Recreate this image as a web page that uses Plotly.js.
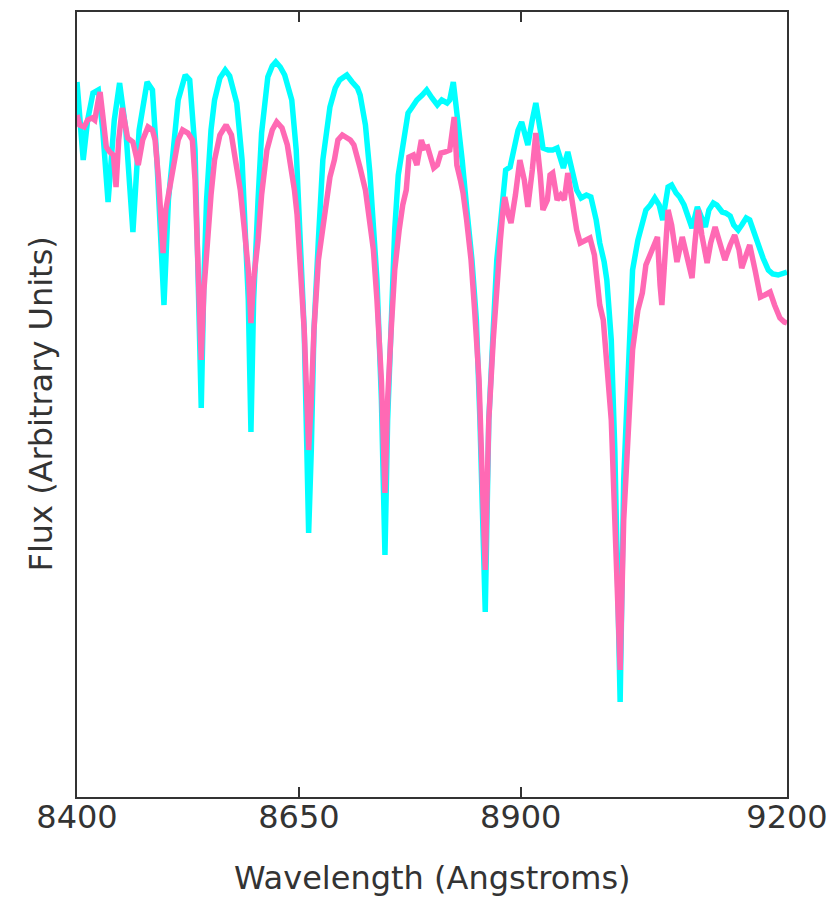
<!DOCTYPE html>
<html>
<head>
<meta charset="utf-8">
<script src="https://cdn.plot.ly/plotly-3.0.1.min.js"></script>
<style>
  html, body { margin: 0; padding: 0; background: #fff; }
  #chart { width: 832px; height: 898px; }
</style>
</head>
<body>
<div id="chart"></div>
<script>
// Spectrum 1 (cyan): wavelength in Angstroms and flux in arbitrary units
const wlCyan = [8400,8403,8407,8412,8418,8424,8429,8435,8442,8448,8455,8463,8470,8479,8485,8490,8498,8503,8508,8514,8522,8527,8533,8536,8540,8543,8546,8551,8555,8561,8567,8572,8580,8586,8589,8593,8596,8599,8604,8608,8615,8620,8624,8629,8634,8642,8647,8651,8656,8659,8661,8664,8667,8672,8677,8685,8691,8696,8704,8710,8716,8719,8725,8730,8735,8738,8743,8747,8750,8754,8758,8762,8765,8770,8773,8777,8783,8789,8794,8800,8806,8811,8817,8820,8824,8827,8829,8834,8839,8845,8850,8854,8860,8864,8869,8873,8877,8880,8883,8888,8892,8897,8901,8905,8908,8913,8917,8922,8925,8931,8936,8941,8944,8948,8953,8959,8963,8968,8974,8979,8985,8989,8994,8997,9002,9006,9012,9016,9021,9026,9032,9037,9041,9046,9051,9056,9060,9066,9070,9075,9079,9084,9088,9093,9099,9103,9108,9112,9117,9121,9127,9131,9136,9140,9145,9149,9154,9158,9163,9167,9173,9179,9184,9190,9195,9200];
const fluxCyan = [7.15,6.77,6.37,6.77,7.04,7.07,6.67,5.95,6.77,7.14,6.67,5.65,6.67,7.15,7.07,6.37,4.92,5.97,6.47,6.97,7.22,7.17,6.47,5.17,3.89,5.17,5.97,6.67,6.97,7.19,7.27,7.21,6.94,6.37,5.80,4.97,3.65,4.97,5.97,6.64,7.20,7.31,7.35,7.30,7.22,6.97,6.47,5.67,4.67,3.47,2.64,3.47,4.67,5.57,6.37,6.90,7.09,7.17,7.22,7.15,7.09,7.02,6.72,6.24,5.67,5.17,3.97,2.42,3.77,4.77,5.67,6.22,6.37,6.67,6.84,6.89,6.97,7.02,7.07,6.99,6.92,6.97,6.94,6.97,7.15,6.92,6.77,6.37,5.90,5.37,4.77,3.77,1.85,3.77,4.67,5.37,5.72,6.07,6.27,6.30,6.47,6.67,6.75,6.62,6.52,6.77,6.94,6.67,6.49,6.47,6.47,6.49,6.39,6.29,6.45,6.25,6.07,5.99,6.02,6.00,5.77,5.54,5.35,5.17,4.57,3.47,0.95,3.17,4.37,5.27,5.57,5.72,5.87,5.92,5.99,5.92,5.77,6.10,6.12,6.04,6.00,5.92,5.82,5.69,5.90,5.82,5.70,5.87,5.94,5.92,5.85,5.84,5.81,5.72,5.67,5.72,5.79,5.77,5.64,5.52,5.39,5.27,5.23,5.22,5.24,5.25];

// Spectrum 2 (pink): wavelength in Angstroms and flux in arbitrary units
const wlPink = [8400,8403,8408,8412,8417,8420,8424,8426,8429,8433,8437,8441,8444,8447,8451,8454,8457,8463,8469,8474,8480,8485,8488,8492,8497,8500,8505,8509,8514,8519,8525,8530,8533,8536,8540,8543,8546,8551,8555,8561,8568,8574,8578,8584,8589,8593,8596,8599,8604,8608,8614,8620,8625,8631,8637,8640,8645,8648,8651,8656,8659,8661,8664,8667,8672,8676,8681,8685,8690,8694,8699,8703,8708,8712,8717,8719,8725,8729,8734,8738,8743,8747,8750,8754,8758,8763,8767,8771,8774,8779,8783,8788,8791,8795,8800,8802,8806,8810,8815,8820,8825,8828,8832,8835,8839,8844,8848,8853,8860,8864,8869,8873,8877,8880,8882,8886,8889,8894,8899,8904,8908,8913,8917,8922,8925,8930,8933,8936,8941,8945,8949,8953,8957,8960,8963,8967,8972,8978,8983,8986,8989,8993,8997,9002,9006,9012,9016,9021,9026,9032,9037,9041,9046,9050,9054,9057,9059,9063,9066,9070,9076,9082,9087,9093,9096,9100,9104,9110,9114,9119,9125,9130,9136,9141,9146,9149,9154,9158,9164,9170,9175,9181,9186,9192,9197,9200];
const fluxPink = [6.82,6.72,6.70,6.77,6.79,6.77,6.97,7.05,6.82,6.50,6.45,6.42,6.10,6.57,6.89,6.72,6.59,6.55,6.32,6.57,6.70,6.67,6.57,6.17,5.44,5.87,6.09,6.32,6.57,6.67,6.64,6.57,6.17,5.37,4.37,5.07,5.47,6.02,6.37,6.62,6.72,6.62,6.40,6.07,5.64,5.27,4.74,5.17,5.57,6.02,6.47,6.67,6.75,6.69,6.52,6.37,6.07,5.82,5.37,4.67,3.97,3.47,3.97,4.67,5.37,5.60,5.97,6.20,6.37,6.57,6.62,6.60,6.57,6.52,6.37,6.29,6.07,5.82,5.47,4.97,4.17,3.04,3.97,4.67,5.27,5.67,5.92,6.07,6.40,6.42,6.32,6.57,6.49,6.50,6.37,6.29,6.32,6.44,6.45,6.47,6.80,6.32,6.17,6.04,5.77,5.37,4.87,4.17,2.27,3.77,4.57,5.17,5.57,5.87,6.00,5.82,5.74,6.02,6.37,6.17,5.90,6.27,6.64,6.22,5.87,5.97,6.22,6.24,5.97,6.02,5.97,6.24,5.97,5.77,5.67,5.54,5.57,5.59,5.42,5.10,4.92,4.77,4.37,3.77,2.77,1.27,2.77,3.77,4.47,4.87,5.04,5.32,5.44,5.52,5.60,5.12,4.92,5.47,5.87,5.72,5.35,5.60,5.42,5.19,5.52,5.87,5.62,5.34,5.54,5.70,5.52,5.37,5.52,5.62,5.47,5.29,5.42,5.52,5.27,5.00,5.02,5.05,4.92,4.79,4.75,4.74];

const xTicks = [8400, 8650, 8900, 9200];
const xRange = [8400, 9200];
const yRange = [0, 7.85];

const axisColor = '#333333';
const fontFamily = 'DejaVu Sans, sans-serif';
const titleFont = { family: fontFamily, size: 32, color: axisColor };

const traces = [
  {
    x: wlCyan, y: fluxCyan, type: 'scatter', mode: 'lines',
    line: { color: '#00ffff', width: 5.5 },
    hoverinfo: 'skip'
  },
  {
    x: wlPink, y: fluxPink, type: 'scatter', mode: 'lines',
    line: { color: '#ff69b4', width: 5.5 },
    hoverinfo: 'skip'
  }
];

const layout = {
  width: 832,
  height: 898,
  margin: { l: 77, r: 45, t: 12, b: 101 },
  paper_bgcolor: '#ffffff',
  plot_bgcolor: '#ffffff',
  showlegend: false,
  font: { family: fontFamily, color: axisColor, size: 32 },
  xaxis: {
    range: xRange,
    tickmode: 'array',
    tickvals: xTicks,
    ticktext: xTicks.map(String),
    ticks: 'inside',
    ticklen: 10,
    tickwidth: 1.5,
    tickcolor: axisColor,
    ticklabelstandoff: -9,
    showline: true,
    linecolor: axisColor,
    linewidth: 2,
    mirror: 'ticks',
    showgrid: false,
    zeroline: false,
    tickfont: { family: fontFamily, size: 32, color: axisColor }
  },
  yaxis: {
    range: yRange,
    showticklabels: false,
    ticks: '',
    showline: true,
    linecolor: axisColor,
    linewidth: 2,
    mirror: true,
    showgrid: false,
    zeroline: false
  },
  annotations: [
    {
      text: 'Wavelength (Angstroms)',
      xref: 'paper', yref: 'paper',
      x: 0.5, y: -0.1032,
      xanchor: 'center', yanchor: 'middle',
      showarrow: false,
      font: titleFont
    },
    {
      text: 'Flux (Arbitrary Units)',
      xref: 'paper', yref: 'paper',
      x: -0.0521, y: 0.5,
      xanchor: 'center', yanchor: 'middle',
      textangle: -90,
      showarrow: false,
      font: titleFont
    }
  ]
};

Plotly.newPlot('chart', traces, layout, { staticPlot: true, displayModeBar: false });
</script>
</body>
</html>
